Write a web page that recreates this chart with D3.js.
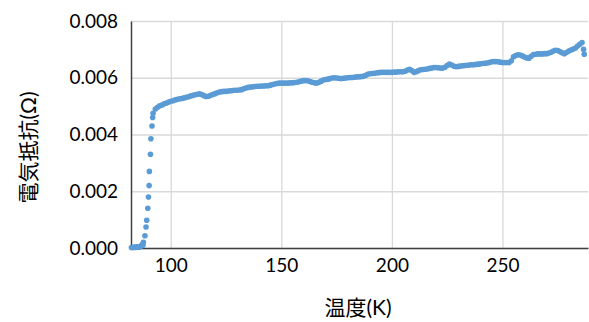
<!DOCTYPE html>
<html>
<head>
<meta charset="utf-8">
<script src="https://cdn.jsdelivr.net/npm/d3@7"></script>
<style>
  html, body { margin: 0; padding: 0; background: #fff; }
</style>
</head>
<body>
<div id="chart"></div>
<script>
// temperature (K) of each measurement
var temperature = [
  82.2, 82.7, 83.2, 83.7, 84.2, 84.7, 85.2, 85.7, 86.2, 86.7, 87.1, 87.4, 87.6,
  88.3, 88.8, 89.1, 89.6, 89.9, 90.2, 90.3, 90.8, 91.0, 91.5, 91.8,
  92, 93, 94, 95, 96, 97, 98, 99, 100, 101, 102, 103, 104, 105, 106, 107, 108, 109,
  110, 111, 112, 113, 114, 115, 116, 117, 118, 119, 120, 121, 122, 123, 124, 125, 126, 127,
  128, 129, 130, 131, 132, 133, 134, 135, 136, 137, 138, 139, 140, 141, 142, 143, 144, 145,
  146, 147, 148, 149, 150, 151, 152, 153, 154, 155, 156, 157, 158, 159, 160, 161, 162, 163,
  164, 165, 166, 167, 168, 169, 170, 171, 172, 173, 174, 175, 176, 177, 178, 179, 180, 181,
  182, 183, 184, 185, 186, 187, 188, 189, 190, 191, 192, 193, 194, 195, 196, 197, 198, 199,
  200, 201, 202, 203, 204, 205, 206, 207, 208, 209, 210, 211, 212, 213, 214, 215, 216, 217,
  218, 219, 220, 221, 222, 223, 224, 225, 226, 227, 228, 229, 230, 231, 232, 233, 234, 235,
  236, 237, 238, 239, 240, 241, 242, 243, 244, 245, 246, 247, 248, 249, 250, 251, 252, 253,
  254, 255, 256, 257, 258, 259, 260, 261, 262, 263, 264, 265, 266, 267, 268, 269, 270, 271,
  272, 273, 274, 275, 276, 277, 278, 279, 280, 281, 282, 283, 284, 285, 286, 286.7, 287
];

// electrical resistance (ohm)
var resistance = [
  0.00002, 0.00002, 0.00003, 0.00002, 0.00003, 0.00003, 0.00004, 0.00003, 0.00005, 0.00008, 0.00012, 0.00010, 0.00020,
  0.00043, 0.00074, 0.00098, 0.00140, 0.00180, 0.00220, 0.00270, 0.00330, 0.00385, 0.00430, 0.00460,
  0.00475, 0.00490, 0.00496, 0.00501, 0.00504, 0.00508, 0.00511, 0.00514, 0.00517, 0.00519, 0.00522, 0.00524, 0.00526, 0.00527, 0.00529, 0.00531, 0.00533, 0.00536,
  0.00538, 0.00540, 0.00542, 0.00543, 0.00541, 0.00537, 0.00534, 0.00535, 0.00538, 0.00541, 0.00544, 0.00547, 0.00550, 0.00551, 0.00552, 0.00552, 0.00553, 0.00554,
  0.00555, 0.00556, 0.00556, 0.00557, 0.00558, 0.00561, 0.00564, 0.00566, 0.00567, 0.00568, 0.00569, 0.00570, 0.00570, 0.00571, 0.00571, 0.00572, 0.00572, 0.00574,
  0.00576, 0.00578, 0.00580, 0.00581, 0.00581, 0.00581, 0.00581, 0.00581, 0.00582, 0.00582, 0.00583, 0.00584, 0.00586, 0.00588, 0.00590, 0.00590, 0.00589, 0.00587,
  0.00584, 0.00582, 0.00581, 0.00584, 0.00588, 0.00592, 0.00594, 0.00595, 0.00597, 0.00599, 0.00600, 0.00599, 0.00598, 0.00597, 0.00598, 0.00599, 0.00600, 0.00601,
  0.00601, 0.00602, 0.00603, 0.00603, 0.00604, 0.00605, 0.00608, 0.00612, 0.00614, 0.00615, 0.00616, 0.00617, 0.00618, 0.00619, 0.00619, 0.00619, 0.00619, 0.00619,
  0.00619, 0.00620, 0.00620, 0.00621, 0.00621, 0.00621, 0.00623, 0.00627, 0.00630, 0.00625, 0.00619, 0.00621, 0.00625, 0.00628, 0.00629, 0.00630, 0.00631, 0.00633,
  0.00634, 0.00636, 0.00636, 0.00635, 0.00634, 0.00634, 0.00637, 0.00643, 0.00648, 0.00645, 0.00641, 0.00639, 0.00640, 0.00641, 0.00642, 0.00643, 0.00644, 0.00645,
  0.00646, 0.00646, 0.00647, 0.00648, 0.00649, 0.00650, 0.00651, 0.00652, 0.00654, 0.00656, 0.00657, 0.00657, 0.00656, 0.00655, 0.00654, 0.00654, 0.00654, 0.00654,
  0.00660, 0.00674, 0.00678, 0.00681, 0.00680, 0.00677, 0.00673, 0.00670, 0.00669, 0.00676, 0.00682, 0.00683, 0.00684, 0.00684, 0.00684, 0.00685, 0.00685, 0.00687,
  0.00690, 0.00694, 0.00697, 0.00696, 0.00692, 0.00688, 0.00685, 0.00689, 0.00694, 0.00698, 0.00701, 0.00705, 0.00712, 0.00718, 0.00724, 0.00700, 0.00683
];

var xTicks = [100, 150, 200, 250];
var yTicks = [0, 0.002, 0.004, 0.006, 0.008];
var xTitle = "温度(K)";
var yTitle = "電気抵抗(Ω)";

var margin = {top: 21, right: 1, bottom: 74, left: 131},
	width = 589 - margin.left - margin.right,
	height = 322 - margin.top - margin.bottom;

var FONT = "Lato, 'Noto Sans CJK JP', sans-serif";
var DOT_COLOR = "#5b9bd5";

var svg = d3.select("#chart")
	.append("svg")
	.attr("width", 589)
	.attr("height", 322)
	.append("g")
	.attr("transform", "translate(" + margin.left + "," + margin.top + ")");

var x = d3.scaleLinear()
	.domain([82, 288.7])
	.range([0, width]);

var y = d3.scaleLinear()
	.domain([0, 0.008])
	.range([height, 0]);

// gridlines
svg.append("g")
	.call(d3.axisBottom(x).tickValues(xTicks).tickSize(height).tickFormat(""))
	.call(g => g.select(".domain").remove())
	.selectAll("line")
	.attr("stroke", "#d9d9d9")
	.attr("stroke-width", 1.3);

svg.append("g")
	.call(d3.axisLeft(y).tickValues(yTicks).tickSize(-width).tickFormat(""))
	.call(g => g.select(".domain").remove())
	.selectAll("line")
	.attr("stroke", "#d9d9d9")
	.attr("stroke-width", 1.3);

// axes with labels
var xAxis = svg.append("g")
	.attr("transform", "translate(0," + height + ")")
	.call(d3.axisBottom(x).tickValues(xTicks).tickSize(0).tickPadding(11).tickFormat(d3.format("d")));
xAxis.select(".domain").attr("stroke", "#404040").attr("stroke-width", 1.5);
xAxis.selectAll("text")
	.attr("font-family", FONT)
	.attr("font-size", "19px")
	.attr("fill", "#000");

var yAxis = svg.append("g")
	.call(d3.axisLeft(y).tickValues(yTicks).tickSize(0).tickPadding(13).tickFormat(d3.format(".3f")));
yAxis.select(".domain").attr("stroke", "#404040").attr("stroke-width", 1.5);
yAxis.selectAll("text")
	.attr("font-family", FONT)
	.attr("font-size", "19px")
	.attr("fill", "#000");

// points
var points = temperature.map((t, i) => [t, resistance[i]]);
svg.append("g")
	.selectAll("circle")
	.data(points)
	.enter()
	.append("circle")
	.attr("cx", d => x(d[0]))
	.attr("cy", d => y(d[1]))
	.attr("r", 2.8)
	.attr("fill", DOT_COLOR);

// axis titles
svg.append("text")
	.attr("x", 227)
	.attr("y", height + 67)
	.attr("text-anchor", "middle")
	.attr("font-family", FONT)
	.attr("font-size", "21px")
	.attr("fill", "#000")
	.text(xTitle);

svg.append("text")
	.attr("transform", "translate(" + (-95) + "," + (height / 2 + 13) + ")rotate(-90)")
	.attr("text-anchor", "middle")
	.attr("font-family", FONT)
	.attr("font-size", "21px")
	.attr("fill", "#000")
	.text(yTitle);
</script>
</body>
</html>
